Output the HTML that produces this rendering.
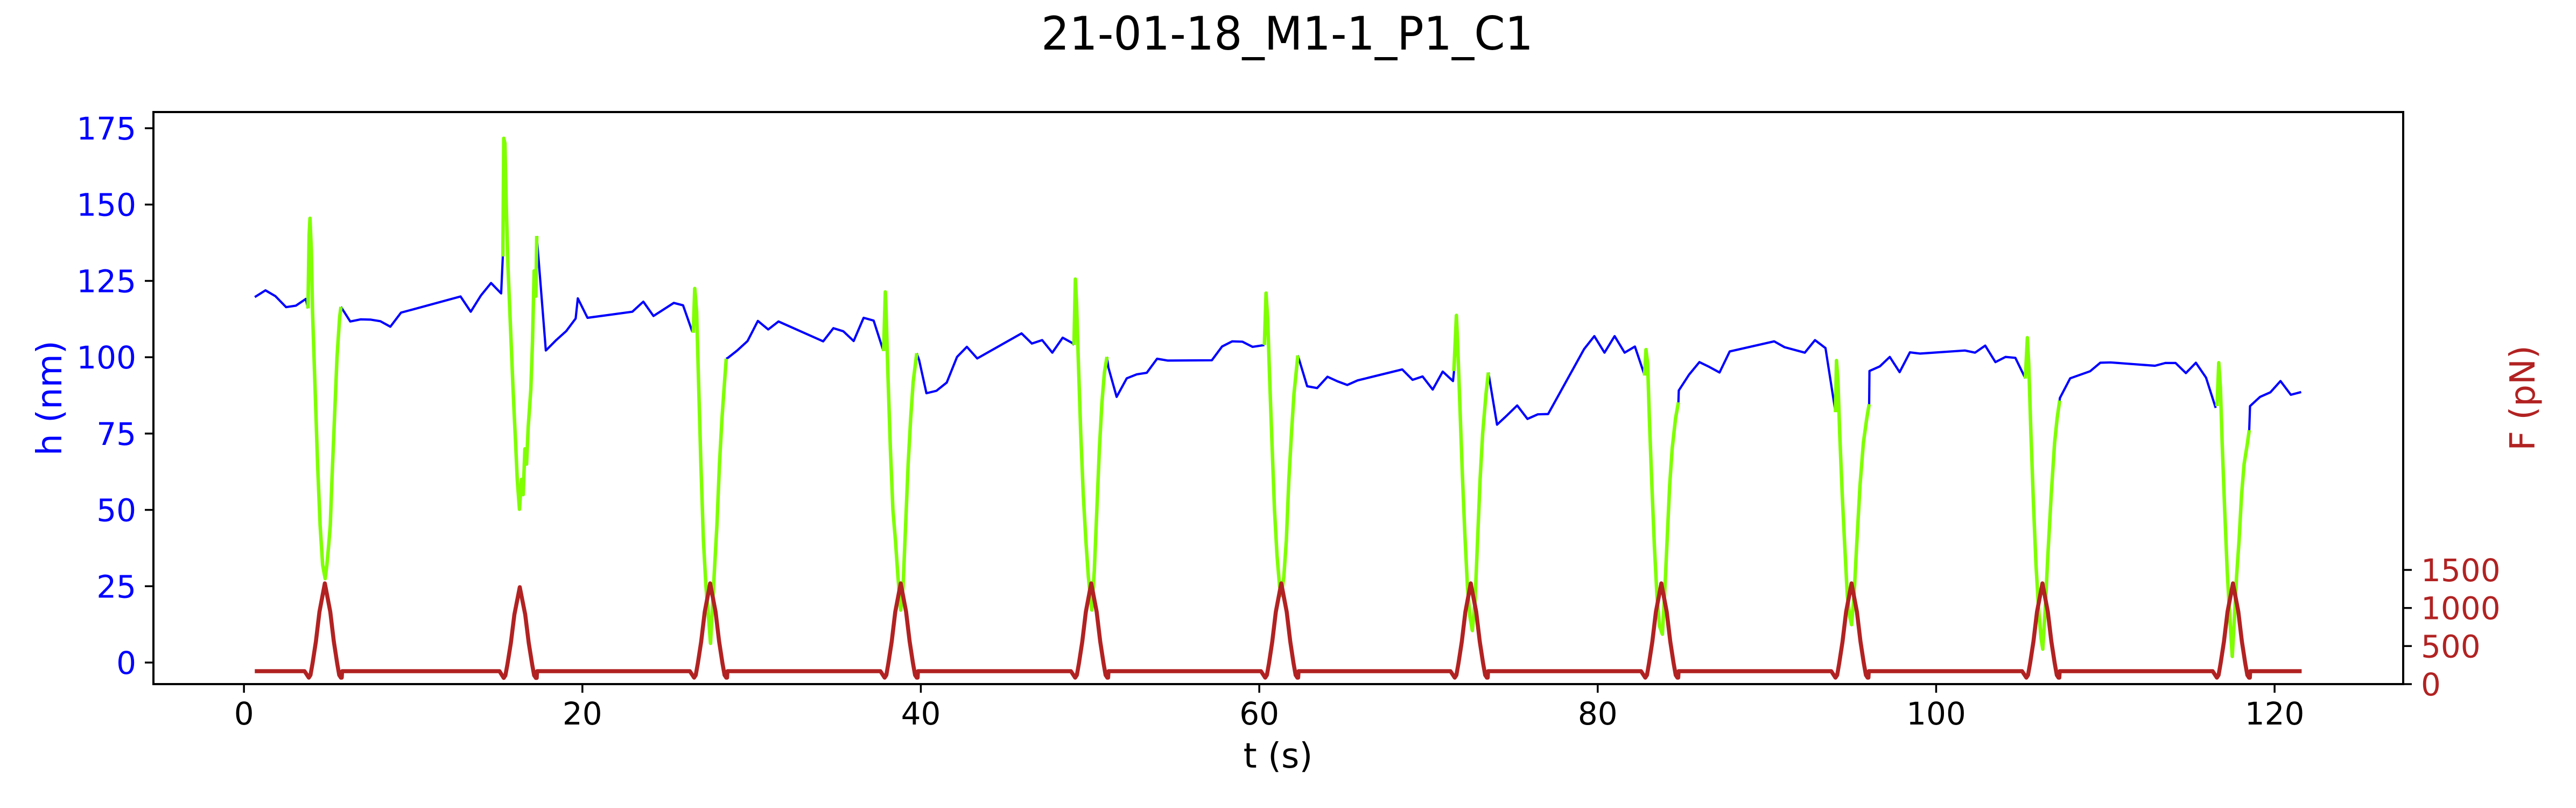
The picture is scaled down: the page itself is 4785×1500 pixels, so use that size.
<!DOCTYPE html>
<html><head><meta charset="utf-8"><style>
html,body{margin:0;padding:0;background:#fff}
svg{display:block}
text{font-family:"DejaVu Sans","Liberation Sans",sans-serif}
</style></head><body>
<svg id="chart" width="4785" height="1500" viewBox="0 0 4785 1500" xmlns="http://www.w3.org/2000/svg">
<rect x="0" y="0" width="4785" height="1500" fill="#fff"/>
<text x="2391" y="92" font-size="86" text-anchor="middle" textLength="914" lengthAdjust="spacingAndGlyphs">21-01-18_M1-1_P1_C1</text>
<g id="plot"></g>
<g id="axes"></g>
</svg>
<script>
// ---- data ----
const xTicks = [0, 20, 40, 60, 80, 100, 120];
const hTicks = [0, 25, 50, 75, 100, 125, 150, 175];
const fTicks = [0, 500, 1000, 1500];
// blue h(t) segments [t, h]
const blueSegments = [
[[0.64,119.7],[1.27,121.9],[1.86,120],[2.49,116.4],[3.07,116.9],[3.66,119.1],[3.78,116]],
[[5.73,116.5],[6.28,111.7],[6.89,112.4],[7.5,112.3],[8.06,111.8],[8.65,110],[9.28,114.6],[12.8,119.9],[13.4,114.9],[14.0,120.2],[14.6,124.3],[15.2,120.9],[15.3,133.4]],
[[17.3,139.7],[17.84,102.2],[18.45,105.6],[19.05,108.6],[19.6,112.7],[19.73,119.3],[20.3,112.9],[22.95,114.9],[23.6,118.2],[24.2,113.5],[25.4,117.8],[25.95,117],[26.5,108.3]],
[[28.5,99.5],[28.6,99.8],[29.15,102.2],[29.76,105.3],[30.37,111.9],[30.98,109.1],[31.59,111.7],[34.23,105.2],[34.83,109.5],[35.42,108.5],[36.03,105.3],[36.62,112.9],[37.21,112],[37.78,102.2]],
[[39.76,101.3],[39.9,99.1],[40.33,88.2],[40.92,89],[41.53,91.7],[42.14,100.1],[42.72,103.4],[43.33,99.6],[45.95,107.8],[46.56,104.5],[47.17,105.6],[47.77,101.5],[48.38,106.4],[48.97,104.6],[49.05,104]],
[[51.0,100.1],[51.08,96.7],[51.57,87],[52.17,93.1],[52.76,94.4],[53.35,94.9],[53.96,99.5],[54.6,98.9],[57.2,99],[57.8,103.5],[58.4,105.2],[59.0,105.1],[59.6,103.4],[60.2,103.9],[60.3,104]],
[[62.28,100.6],[62.83,90.5],[63.42,89.9],[64.03,93.6],[64.62,92.1],[65.2,90.9],[65.81,92.4],[68.45,96],[69.06,92.6],[69.65,93.7],[70.25,89.4],[70.84,95.3],[71.45,92.2],[71.51,95.5]],
[[73.54,95],[74.05,77.9],[74.63,80.9],[75.24,84.2],[75.85,79.8],[76.46,81.3],[77.07,81.4],[79.2,102.7],[79.8,106.9],[80.4,101.5],[81.0,106.9],[81.59,101.5],[82.2,103.5],[82.77,94.1]],
[[84.77,85.2],[84.79,89.1],[85.4,94.3],[86.01,98.4],[86.6,96.8],[87.2,95],[87.8,101.9],[90.43,105.2],[91.04,103.3],[92.24,101.5],[92.84,105.6],[93.46,103],[94.05,82.1]],
[[96.04,84.6],[96.06,95.5],[96.67,97],[97.26,100.1],[97.84,95.1],[98.45,101.6],[99.06,101.2],[101.7,102.2],[102.3,101.5],[102.9,103.8],[103.5,98.4],[104.1,100.1],[104.68,99.8],[105.27,93.1]],
[[107.3,85.8],[107.31,86.6],[107.92,93.1],[109.1,95.4],[109.7,98.2],[110.3,98.3],[112.93,97.2],[113.54,98.1],[114.15,98.1],[114.76,94.8],[115.35,98.2],[115.95,93.3],[116.52,83.4]],
[[118.5,76.1],[118.55,84],[119.14,87],[119.75,88.5],[120.35,92.2],[120.96,87.7],[121.57,88.6]]
];
// green h(t) during force pulses [t, h]
const greenSegments = [
[[3.78,116],[3.85,140],[3.9,145.5],[3.98,135],[4.05,115],[4.2,90],[4.35,65],[4.5,45],[4.65,32],[4.8,27.5],[4.9,32],[5.0,38],[5.1,45],[5.2,60],[5.35,80],[5.5,100],[5.65,113],[5.73,116.5]],
[[15.3,133],[15.35,171.7],[15.42,170],[15.5,150],[15.6,130],[15.75,110],[15.9,90],[15.97,81.5],[16.05,72],[16.15,60],[16.28,50.2],[16.4,60],[16.5,55],[16.6,70],[16.7,65],[16.8,77.3],[16.95,89.4],[17.05,105],[17.15,128.3],[17.25,120],[17.3,139.7]],
[[26.55,108],[26.64,122.5],[26.75,115],[26.85,95],[27.0,65],[27.15,40],[27.3,25],[27.45,15],[27.57,6.3],[27.7,20],[27.8,30],[27.95,45],[28.1,65],[28.25,80],[28.4,92],[28.5,99.5]],
[[37.8,102],[37.9,121.4],[37.95,115],[38.05,95],[38.2,70],[38.35,50],[38.5,40],[38.65,28],[38.81,17.2],[38.95,25],[39.1,45],[39.25,65],[39.4,80],[39.55,92],[39.76,101.3]],
[[49.05,104],[49.13,125.6],[49.2,118],[49.3,100],[49.45,75],[49.6,55],[49.75,40],[49.9,28],[50.1,17.2],[50.25,30],[50.4,50],[50.55,70],[50.7,85],[50.85,95],[51.0,100.1]],
[[60.3,104],[60.4,121],[60.5,112],[60.6,95],[60.75,72],[60.9,50],[61.05,35],[61.2,25],[61.3,22],[61.45,28],[61.6,40],[61.75,60],[61.9,75],[62.05,88],[62.28,100.6]],
[[71.5,95.5],[71.65,113.7],[71.72,105],[71.85,85],[72.0,62],[72.15,42],[72.3,25],[72.45,15],[72.59,10.5],[72.75,20],[72.9,40],[73.05,60],[73.2,75],[73.4,88],[73.54,95]],
[[82.77,94],[82.85,102.5],[82.95,98],[83.05,80],[83.2,58],[83.35,38],[83.5,22],[83.65,12],[83.82,9.3],[83.95,22],[84.1,40],[84.25,58],[84.4,70],[84.6,80],[84.77,85.2]],
[[94.05,82],[94.11,98.9],[94.2,92],[94.3,75],[94.45,55],[94.6,38],[94.75,22],[94.9,15],[95.0,12.4],[95.15,22],[95.3,38],[95.5,58],[95.7,72],[95.9,80],[96.04,84.6]],
[[105.27,93],[105.39,106.4],[105.47,98],[105.6,75],[105.75,52],[105.9,32],[106.05,18],[106.2,8],[106.3,4.4],[106.45,18],[106.6,35],[106.8,55],[107.0,72],[107.15,80],[107.3,85.8]],
[[116.6,84],[116.7,98.2],[116.8,90],[116.9,72],[117.05,50],[117.2,30],[117.35,15],[117.5,2],[117.6,12],[117.75,28],[117.9,40],[118.05,55],[118.2,65],[118.4,72],[118.5,76.1]]
];
// force pulses
const forceStart = 0.64;
const forceEnd = 121.6;
const forceBaseline = 170;
const pulseTimes = [4.78, 16.3, 27.55, 38.81, 50.07, 61.3, 72.5, 83.76, 95.0, 106.28, 117.54];
const pulsePeaks = [1323, 1273, 1323, 1323, 1323, 1323, 1323, 1323, 1323, 1323, 1323];
// pulse profile: time offset (s) and fraction of peak
const pulseOffsets = [-1.2, -0.95, -0.85, -0.73, -0.53, -0.32, 0, 0.32, 0.53, 0.73, 0.85, 0.95, 1.0, 1.02];
const pulseFractions = [0.1285, 0.064, 0.09, 0.204, 0.423, 0.718, 1, 0.718, 0.423, 0.204, 0.09, 0.064, 0.064, 0.1285];

// ---- axes geometry ----
const L = 285, R = 4464, T = 208, B = 1270;
const xMin = -5.35, xMax = 127.6;
const hMin = -7.06, hMax = 180.3;
const fMin = 0, fMax = 7515;
const X = t => L + (t - xMin) / (xMax - xMin) * (R - L);
const YH = h => B - (h - hMin) / (hMax - hMin) * (B - T);
const YF = f => B - (f - fMin) / (fMax - fMin) * (B - T);
const NS = 'http://www.w3.org/2000/svg';
const plot = document.getElementById('plot');
const axes = document.getElementById('axes');
function mk(tag, attrs, parent) {
  const e = document.createElementNS(NS, tag);
  for (const k in attrs) e.setAttribute(k, attrs[k]);
  parent.appendChild(e);
  return e;
}
function pts(arr, yf) { return arr.map(p => X(p[0]).toFixed(1) + ',' + yf(p[1]).toFixed(1)).join(' '); }

blueSegments.forEach((seg, i) => {
  const e = mk('polyline', {points: pts(seg, YH), fill: 'none', stroke: '#0000ff', 'stroke-width': 4.2, 'stroke-linejoin': 'round'}, plot);
  
  
});
greenSegments.forEach((seg, i) => {
  const e = mk('polyline', {points: pts(seg, YH), fill: 'none', stroke: '#7fff00', 'stroke-width': 6.5, 'stroke-linejoin': 'round'}, plot);
  
  
});
// force line
const fPts = [[forceStart, forceBaseline]];
pulseTimes.forEach((tp, i) => {
  pulseOffsets.forEach((o, j) => {
    const v = j === 0 || j === pulseOffsets.length - 1 ? forceBaseline : pulseFractions[j] * pulsePeaks[i];
    fPts.push([tp + o, v]);
  });
});
fPts.push([forceEnd, forceBaseline]);
const fl = mk('polyline', {points: pts(fPts, YF), fill: 'none', stroke: '#b22222', 'stroke-width': 7.5, 'stroke-linejoin': 'round'}, plot);



// frame
const fr = mk('rect', {x: L, y: T, width: R - L, height: B - T, fill: 'none', stroke: '#000', 'stroke-width': 4}, axes);



xTicks.forEach(v => {
  const x = X(v);
  const tk = mk('line', {x1: x, y1: B, x2: x, y2: B + 16, stroke: '#000', 'stroke-width': 3.5}, axes);
  
  
  const tx = mk('text', {x: x, y: 1345, 'font-size': 58, 'text-anchor': 'middle', fill: '#000'}, axes);
  tx.textContent = v;
  
  
});
hTicks.forEach(v => {
  const y = YH(v);
  const tk = mk('line', {x1: L - 16, y1: y, x2: L, y2: y, stroke: '#000', 'stroke-width': 3.5}, axes);
  
  
  const tx = mk('text', {x: 253, y: y + 21, 'font-size': 58, 'text-anchor': 'end', fill: '#0000ff'}, axes);
  tx.textContent = v;
  
  
});
fTicks.forEach(v => {
  const y = YF(v);
  const tk = mk('line', {x1: R, y1: y, x2: R + 16, y2: y, stroke: '#000', 'stroke-width': 3.5}, axes);
  
  
  const tx = mk('text', {x: 4497, y: y + 21, 'font-size': 58, 'text-anchor': 'start', fill: '#b22222'}, axes);
  tx.textContent = v;
  
  
});
const xl = mk('text', {x: 2374, y: 1425, 'font-size': 64, 'text-anchor': 'middle', fill: '#000'}, axes);
xl.textContent = 't (s)';


const yl = mk('text', {x: 0, y: 0, 'font-size': 64, 'text-anchor': 'middle', fill: '#0000ff', transform: 'translate(114,739) rotate(-90)'}, axes);
yl.textContent = 'h (nm)';


const y2 = mk('text', {x: 0, y: 0, 'font-size': 64, 'text-anchor': 'middle', fill: '#b22222', transform: 'translate(4708,739) rotate(-90)'}, axes);
y2.textContent = 'F (pN)';


</script>
</body></html>
